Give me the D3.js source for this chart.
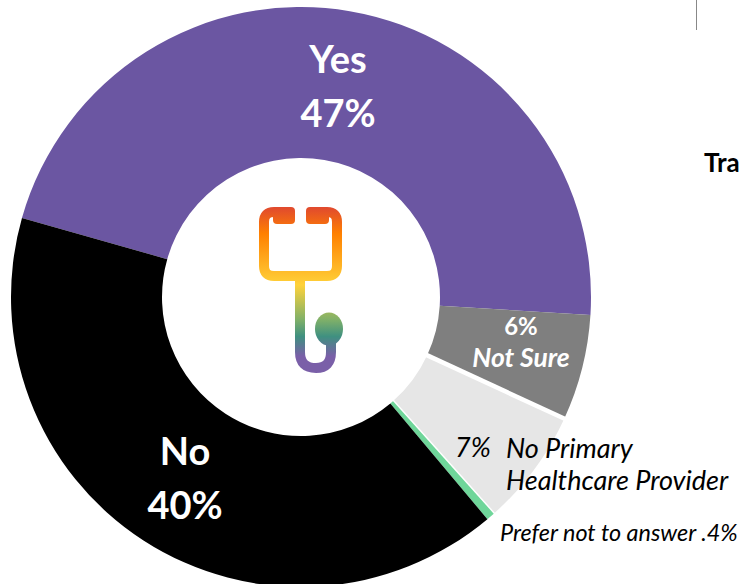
<!DOCTYPE html>
<html><head><meta charset="utf-8">
<script src="https://cdn.jsdelivr.net/npm/d3@7"></script>
<style>html,body{margin:0;padding:0;background:#fff;overflow:hidden}svg{display:block}text{font-family:Lato,"Open Sans",sans-serif}</style>
</head><body><svg id="c" width="742" height="584"></svg>
<script>
const categories = ["Yes","Not Sure","No Primary Healthcare Provider","Prefer not to answer","No"];
const values = [46.6,5.9,6.5,0.5,40.5];
const colors = ["#6b56a2","#7f7f7f","#e6e6e6","#6fd69a","#000000"];
const svg = d3.select("#c");
const cx=301, cy=297, rO=290, rI=139;
const start=-74.2*Math.PI/180;
const pie=d3.pie().sort(null).startAngle(start).endAngle(start+2*Math.PI)(values);
const arc=d3.arc().innerRadius(rI).outerRadius(rO);
const g=svg.append("g").attr("transform",`translate(${cx},${cy})`);
g.selectAll("path").data(pie).join("path").attr("d",arc).attr("fill",(d,i)=>colors[i]);
// white separators on the two edges of the light slice
const sep=d3.lineRadial();
[pie[1].endAngle,pie[2].endAngle].forEach((a,i)=>{
  g.append("path").attr("d",sep([[a,rI-1],[a,rO+1]])).attr("stroke","#fff").attr("stroke-width",i?1.5:4.5).attr("fill","none");
});
// stethoscope icon
const stops=[[0,"#e0492f"],[0.16,"#ff8000"],[0.47,"#ffd23a"],[0.68,"#7fb069"],[0.78,"#3f9080"],[0.9,"#7a5fa8"],[1,"#7a5fa8"]];
const lg=svg.append("defs").append("linearGradient").attr("id","rb").attr("gradientUnits","userSpaceOnUse")
 .attr("x1",0).attr("x2",0).attr("y1",207).attr("y2",373);
lg.selectAll("stop").data(stops).join("stop").attr("offset",d=>d[0]).attr("stop-color",d=>d[1]);
const ic=svg.append("g").attr("fill","none").attr("stroke","url(#rb)").attr("stroke-width",10);
ic.append("path").attr("d","M278,212H274Q264,212 264,222V266Q264,276 274,276H327Q337,276 337,266V222Q337,212 327,212H323");
ic.append("path").attr("d","M300,276V352Q300,368 316,368Q331,368 331,352V340");
const fg=svg.append("g").attr("fill","url(#rb)");
fg.append("rect").attr("x",273).attr("y",207).attr("width",22).attr("height",17).attr("rx",4);
fg.append("rect").attr("x",306).attr("y",207).attr("width",23).attr("height",17).attr("rx",4);
fg.append("ellipse").attr("cx",329).attr("cy",329).attr("rx",14).attr("ry",16.5);
// labels
const t=(s,x,y,size,fill,o={})=>svg.append("text").text(s).attr("x",x).attr("y",y).attr("font-size",size).attr("fill",fill)
 .attr("text-anchor",o.a||"start").attr("font-weight",o.b?700:400).attr("font-style",o.i?"italic":"normal");
t("Yes",338,73,38,"#fff",{a:"middle",b:1});
t("47%",338,127,38,"#fff",{a:"middle",b:1});
t("No",185,465,38,"#fff",{a:"middle",b:1});
t("40%",185,519,38,"#fff",{a:"middle",b:1});
t("6%",521,335,24,"#fff",{a:"middle",b:1});
t("Not Sure",521,367,26.5,"#fff",{a:"middle",b:1,i:1});
t("7%",455,457,27,"#000",{i:1});
t("No Primary",506,458,27,"#000",{i:1});
t("Healthcare Provider",506,490,27,"#000",{i:1});
t("Prefer not to answer .4%",500,541,23.4,"#000",{i:1});
t("Tra",704,172,26,"#000",{b:1});
svg.append("line").attr("x1",696.5).attr("x2",696.5).attr("y1",0).attr("y2",30).attr("stroke","#888").attr("stroke-width",1);
</script></body></html>
